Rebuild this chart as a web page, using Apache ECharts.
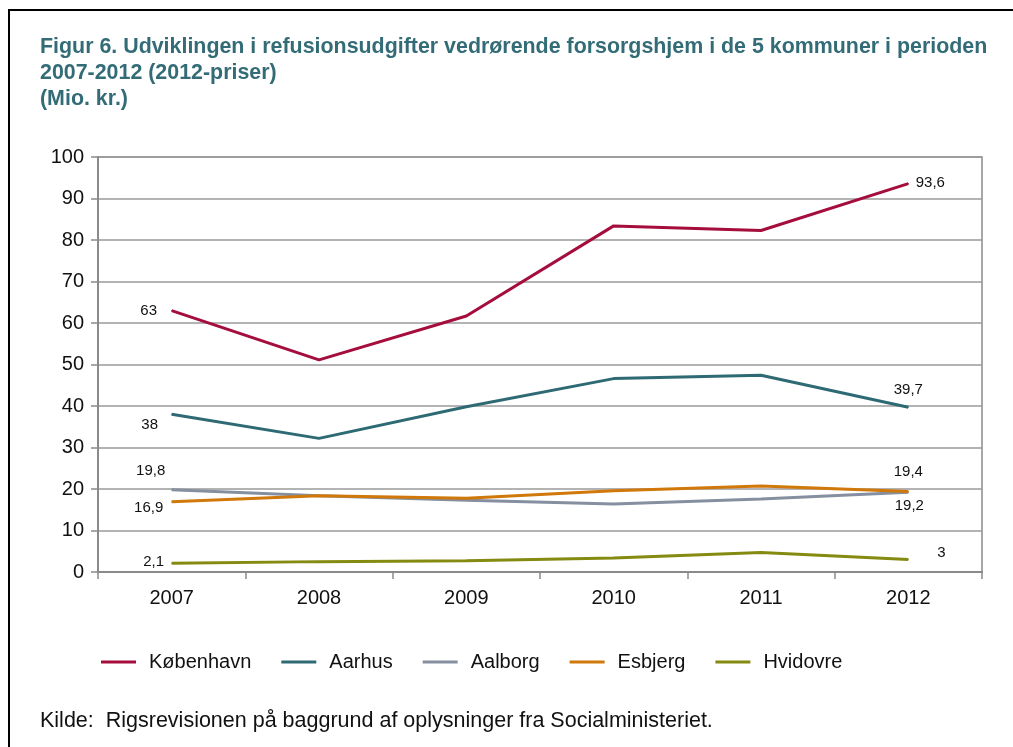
<!DOCTYPE html>
<html>
<head>
<meta charset="utf-8">
<script src="https://cdn.jsdelivr.net/npm/echarts@6/dist/echarts.min.js"></script>
<style>
  html, body { margin: 0; padding: 0; background: #fff; }
  #chart { width: 1013px; height: 747px; }
</style>
</head>
<body>
<div id="chart"></div>
<script>
// data (Mio. kr., 2012-priser)
var years = ['2007', '2008', '2009', '2010', '2011', '2012'];
var names = ['København', 'Aarhus', 'Aalborg', 'Esbjerg', 'Hvidovre'];
var kobenhavn = [63, 51.1, 61.7, 83.4, 82.3, 93.6];
var aarhus = [38, 32.2, 39.8, 46.6, 47.4, 39.7];
var aalborg = [19.8, 18.4, 17.3, 16.4, 17.6, 19.2];
var esbjerg = [16.9, 18.4, 17.8, 19.6, 20.7, 19.4];
var hvidovre = [2.1, 2.5, 2.7, 3.4, 4.7, 3];
var yTicks = [0, 10, 20, 30, 40, 50, 60, 70, 80, 90, 100];

var colors = ['#A50D3D', '#2E6A73', '#858FA0', '#D0780A', '#858A10'];
// where the first / last value label sits relative to its point
var labelOffsets = [
  [[-23, 0], [22, -1]],
  [[-22, 11], [0, -17]],
  [[-21, -19], [1, 14]],
  [[-23, 6], [0, -20]],
  [[-18, -1], [33, -7]]
];

var chart = echarts.init(document.getElementById('chart'));

function fmt(v) {
  return String(v).replace('.', ',');
}

function makeSeries(name, values, i) {
  var last = values.length - 1;
  return {
    name: name,
    type: 'line',
    data: values.map(function (v, j) {
      var item = { value: v };
      if (j === 0 || j === last) {
        item.label = {
          show: true,
          position: 'inside',
          offset: labelOffsets[i][j === 0 ? 0 : 1],
          formatter: function (p) { return fmt(p.value); },
          fontSize: 15,
          fontFamily: 'Liberation Sans, Arial, sans-serif',
          color: '#111'
        };
      }
      return item;
    }),
    symbol: 'circle',
    symbolSize: 1,
    showSymbol: true,
    lineStyle: { width: 3, color: colors[i] },
    itemStyle: { color: colors[i] },
    animation: false,
    z: 3 + i
  };
}

var allValues = [kobenhavn, aarhus, aalborg, esbjerg, hvidovre];

chart.setOption({
  title: {
    text: 'Figur 6. Udviklingen i refusionsudgifter vedrørende forsorgshjem i de 5 kommuner i perioden\n2007-2012 (2012-priser)\n(Mio. kr.)',
    left: 35,
    top: 29,
    textStyle: {
      fontFamily: 'Liberation Sans, Arial, sans-serif',
      fontSize: 21.4,
      fontWeight: 'bold',
      color: '#336C77',
      lineHeight: 26
    }
  },
  legend: {
    data: names,
    left: 96,
    top: 647,
    icon: 'rect',
    itemWidth: 35,
    itemHeight: 3,
    itemGap: 30,
    textStyle: {
      fontFamily: 'Liberation Sans, Arial, sans-serif',
      fontSize: 20,
      color: '#111',
      padding: [0, 0, 0, 8]
    }
  },
  grid: {
    left: 98,
    right: 31,
    top: 157,
    bottom: 175,
    show: true,
    borderColor: '#8a8a8a',
    borderWidth: 1.5
  },
  xAxis: {
    type: 'category',
    data: years,
    boundaryGap: true,
    axisLine: { lineStyle: { color: '#8a8a8a', width: 2 } },
    axisTick: { show: true, length: 7, lineStyle: { color: '#8a8a8a', width: 1.5 } },
    axisLabel: {
      margin: 16,
      fontSize: 20,
      color: '#111',
      fontFamily: 'Liberation Sans, Arial, sans-serif'
    },
    splitLine: { show: false }
  },
  yAxis: {
    type: 'value',
    min: yTicks[0],
    max: yTicks[yTicks.length - 1],
    interval: yTicks[1] - yTicks[0],
    axisLine: { show: true, lineStyle: { color: '#8a8a8a', width: 2 } },
    axisTick: { show: true, length: 7, lineStyle: { color: '#8a8a8a', width: 1.5 } },
    axisLabel: {
      margin: 14,
      fontSize: 20,
      color: '#111',
      fontFamily: 'Liberation Sans, Arial, sans-serif'
    },
    splitLine: { lineStyle: { color: '#9a9a9a', width: 1.5 } }
  },
  graphic: [
    {
      type: 'rect',
      shape: { x: 9, y: 10, width: 1200, height: 900 },
      style: { fill: null, stroke: '#000', lineWidth: 2 },
      silent: true
    },
    {
      type: 'text',
      left: 40,
      top: 710,
      style: {
        text: 'Kilde:  Rigsrevisionen på baggrund af oplysninger fra Socialministeriet.',
        font: '21.5px "Liberation Sans", Arial, sans-serif',
        fill: '#111'
      }
    }
  ],
  series: names.map(function (n, i) { return makeSeries(n, allValues[i], i); })
});
</script>
</body>
</html>
